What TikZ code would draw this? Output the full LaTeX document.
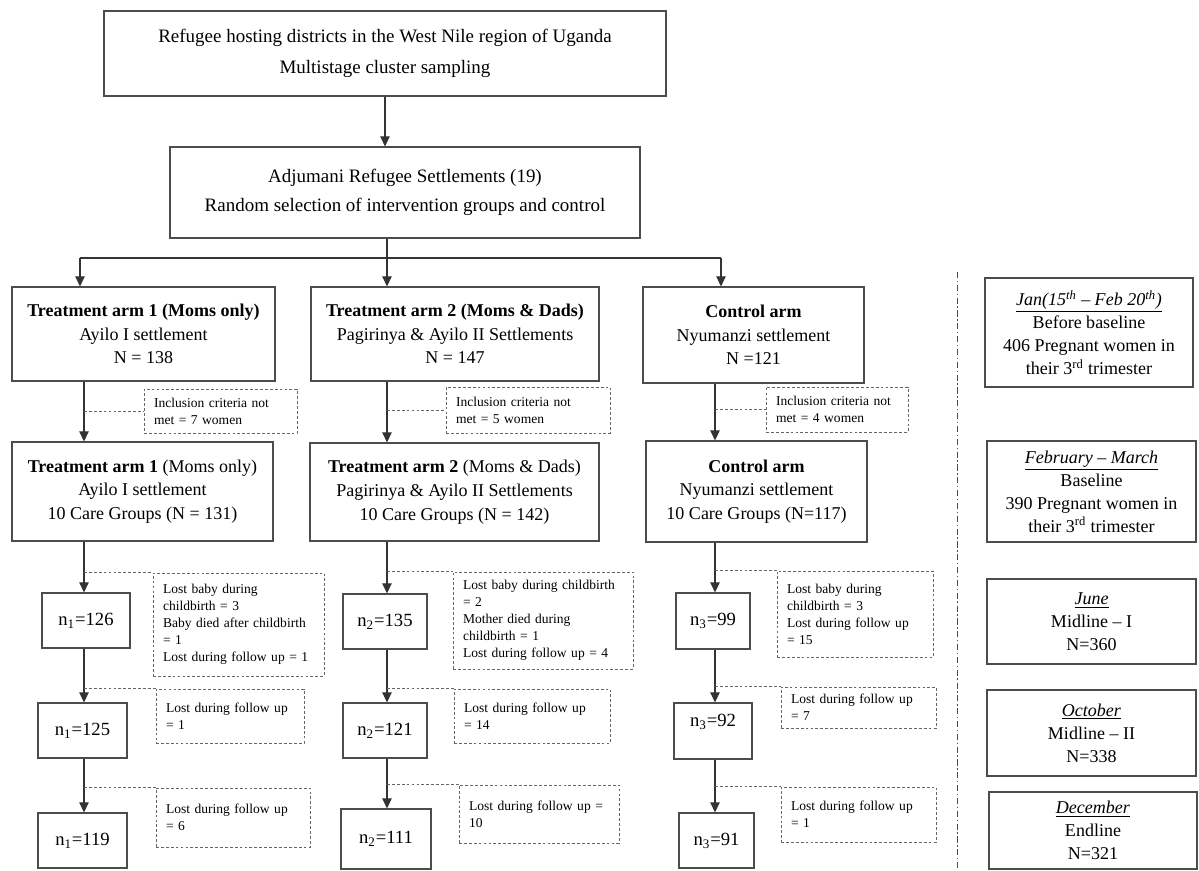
\documentclass[tikz,border=0pt]{standalone}
\usepackage{fontspec}
\setmainfont{Liberation Serif}
\usetikzlibrary{arrows.meta}

\begin{document}
\begin{tikzpicture}[
  box/.style={draw=black!70, line width=0.6pt, align=center, inner sep=2pt, font=\fontsize{10.25}{13.5}\selectfont},
  nbox/.style={draw=black!70, line width=0.6pt, inner sep=1pt, minimum height=1.1cm, font=\fontsize{10.6}{13}\selectfont},
  note/.style={draw=black!60, line width=0.5pt, dash pattern=on 1.6pt off 1.2pt, align=left, inner xsep=1pt, inner ysep=1pt, font=\fontsize{7.7}{9.7}\selectfont},
  arr/.style={draw=black!80, line width=0.6pt, -{Triangle[length=5.8pt,width=5.4pt]}},
  conn/.style={draw=black!60, line width=0.5pt, dash pattern=on 1.6pt off 1.2pt},
  trunk/.style={draw=black!80, line width=0.6pt}]
\useasboundingbox (0,0) rectangle (23.98,-17.42);

% Sampling
\node[box, minimum width=11.24cm, minimum height=1.70cm, font=\fontsize{10.8}{17.6}\selectfont] (top) at (7.70,-1.07)
  {Refugee hosting districts in the West Nile region of Uganda\\ Multistage cluster sampling};
\node[box, minimum width=9.40cm, minimum height=1.82cm, font=\fontsize{10.8}{16.4}\selectfont] (sel) at (8.10,-3.85)
  {Adjumani Refugee Settlements (19)\\ Random selection of intervention groups and control};
\draw[arr] (top.south) -- (top.south |- sel.north);

% Split into the three arms
\coordinate (split) at (7.74,-5.16);
\coordinate (bl) at (1.60,-5.16);
\coordinate (br) at (14.42,-5.16);
\coordinate (s1) at (1.68,0);
\coordinate (s2) at (7.74,0);
\coordinate (s3) at (14.30,0);

\node[box, minimum width=5.26cm, minimum height=1.88cm] (T1a) at (2.87,-6.68)
  {\textbf{Treatment arm 1 (Moms only)}\\ Ayilo I settlement\\ N = 138};
\node[box, minimum width=5.76cm, minimum height=1.88cm] (T2a) at (9.10,-6.68)
  {\textbf{Treatment arm 2 (Moms \& Dads)}\\ Pagirinya \& Ayilo II Settlements\\ N = 147};
\node[box, minimum width=4.42cm, minimum height=1.92cm] (C1a) at (15.07,-6.70)
  {\textbf{Control arm}\\ Nyumanzi settlement\\ N =121};

\draw[trunk] (sel.south -| split) -- (split);
\draw[trunk] (bl) -- (br);
\draw[arr] (bl) -- (bl |- T1a.north);
\draw[arr] (split) -- (split |- T2a.north);
\draw[arr] (br) -- (br |- C1a.north);

% Inclusion criteria
\node[note, minimum width=3.06cm, minimum height=0.88cm, text width=2.66cm] (incl1) at (4.41,-8.22)
  {Inclusion criteria not\\ met = 7 women};
\node[note, minimum width=3.28cm, minimum height=0.92cm, text width=2.88cm] (incl2) at (10.56,-8.20)
  {Inclusion criteria not\\ met = 5 women};
\node[note, minimum width=2.84cm, minimum height=0.90cm, text width=2.44cm] (incl3) at (16.74,-8.19)
  {Inclusion criteria not\\ met = 4 women};

\node[box, minimum width=5.22cm, minimum height=1.98cm] (T1b) at (2.85,-9.83)
  {\textbf{Treatment arm 1} (Moms only)\\ Ayilo I settlement\\ 10 Care Groups (N = 131)};
\node[box, minimum width=5.78cm, minimum height=1.96cm] (T2b) at (9.09,-9.84)
  {\textbf{Treatment arm 2} (Moms \& Dads)\\ Pagirinya \& Ayilo II Settlements\\ 10 Care Groups (N = 142)};
\node[box, minimum width=4.42cm, minimum height=2.02cm] (C1b) at (15.13,-9.83)
  {\textbf{Control arm}\\ Nyumanzi settlement\\ 10 Care Groups (N=117)};

\draw[arr] (T1a.south -| s1) -- (T1b.north -| s1);
\draw[arr] (T2a.south -| s2) -- (T2b.north -| s2);
\draw[arr] (C1a.south -| s3) -- (C1b.north -| s3);
\draw[conn] (incl1.west -| s1) -- (incl1.west);
\draw[conn] (incl2.west -| s2) -- (incl2.west);
\draw[conn] (incl3.west -| s3) -- (incl3.west);

% Follow up, arm 1
\node[nbox, minimum width=1.76cm] (n1a) at (1.72,-12.41) {n\textsubscript{1}=126};
\node[nbox, minimum width=1.78cm] (n1b) at (1.65,-14.61) {n\textsubscript{1}=125};
\node[nbox, minimum width=1.78cm] (n1c) at (1.65,-16.81) {n\textsubscript{1}=119};
\node[note, minimum width=3.42cm, minimum height=2.06cm, text width=3.02cm] (L1a) at (4.77,-12.49)
  {Lost baby during\\ childbirth = 3\\ Baby died after childbirth\\ = 1\\ Lost during follow up = 1};
\node[note, minimum width=2.96cm, minimum height=1.08cm, text width=2.56cm] (L1b) at (4.60,-14.32)
  {Lost during follow up\\ = 1};
\node[note, minimum width=3.08cm, minimum height=1.18cm, text width=2.68cm] (L1c) at (4.66,-16.35)
  {Lost during follow up\\ = 6};
\draw[arr] (T1b.south -| s1) -- (n1a.north -| s1);
\draw[arr] (n1a.south -| s1) -- (n1b.north -| s1);
\draw[arr] (n1b.south -| s1) -- (n1c.north -| s1);
\draw[conn] (L1a.north west -| s1) -- (L1a.north west);
\draw[conn] (L1b.north west -| s1) -- (L1b.north west);
\draw[conn] (L1c.north west -| s1) -- (L1c.north west);

% Follow up, arm 2
\node[nbox, minimum width=1.68cm] (n2a) at (7.70,-12.43) {n\textsubscript{2}=135};
\node[nbox, minimum width=1.68cm] (n2b) at (7.70,-14.61) {n\textsubscript{2}=121};
\node[nbox, minimum width=1.80cm, minimum height=1.20cm] (n2c) at (7.72,-16.78) {n\textsubscript{2}=111};
\node[note, minimum width=3.60cm, minimum height=1.94cm, text width=3.20cm] (L2a) at (10.86,-12.41)
  {Lost baby during childbirth\\ = 2\\ Mother died during\\ childbirth = 1\\ Lost during follow up = 4};
\node[note, minimum width=3.12cm, minimum height=1.08cm, text width=2.72cm] (L2b) at (10.64,-14.32)
  {Lost during follow up\\ = 14};
\node[note, minimum width=3.20cm, minimum height=1.16cm, text width=2.80cm] (L2c) at (10.78,-16.28)
  {Lost during follow up =\\ 10};
\draw[arr] (T2b.south -| s2) -- (n2a.north -| s2);
\draw[arr] (n2a.south -| s2) -- (n2b.north -| s2);
\draw[arr] (n2b.south -| s2) -- (n2c.north -| s2);
\draw[conn] (L2a.north west -| s2) -- (L2a.north west);
\draw[conn] (L2b.north west -| s2) -- (L2b.north west);
\draw[conn] (L2c.north west -| s2) -- (L2c.north west);

% Follow up, control
\node[nbox, minimum width=1.48cm, minimum height=1.12cm] (n3a) at (14.26,-12.42) {n\textsubscript{3}=99};
\node[nbox, minimum width=1.56cm, minimum height=1.12cm, text depth=0.42cm] (n3b) at (14.26,-14.62) {n\textsubscript{3}=92};
\node[nbox, minimum width=1.50cm] (n3c) at (14.33,-16.81) {n\textsubscript{3}=91};
\node[note, minimum width=3.12cm, minimum height=1.72cm, text width=2.72cm] (L3a) at (17.10,-12.28)
  {Lost baby during\\ childbirth = 3\\ Lost during follow up\\ = 15};
\node[note, minimum width=3.10cm, minimum height=0.82cm, text width=2.70cm] (L3b) at (17.17,-14.15)
  {Lost during follow up\\ = 7};
\node[note, minimum width=3.10cm, minimum height=1.10cm, text width=2.70cm] (L3c) at (17.17,-16.29)
  {Lost during follow up\\ = 1};
\draw[arr] (C1b.south -| s3) -- (n3a.north -| s3);
\draw[arr] (n3a.south -| s3) -- (n3b.north -| s3);
\draw[arr] (n3b.south -| s3) -- (n3c.north -| s3);
\draw[conn] (L3a.north west -| s3) -- (L3a.north west);
\draw[conn] (L3b.north west -| s3) -- (L3b.north west);
\draw[conn] (L3c.north west -| s3) -- (L3c.north west);

% Time line
\draw[black!70, line width=0.5pt, dash pattern=on 3.5pt off 1.5pt on 0.8pt off 1.5pt] (19.14,-5.44) -- (19.14,-17.42);
\node[box, minimum width=4.16cm, minimum height=2.18cm, font=\fontsize{10.25}{13.1}\selectfont] (R1) at (21.78,-6.65)
  {\underline{\textit{Jan(15\textsuperscript{th} -- Feb 20\textsuperscript{th})}}\\ Before baseline\\ 406 Pregnant women in\\ their 3\textsuperscript{rd} trimester};
\node[box, minimum width=4.18cm, minimum height=2.02cm, font=\fontsize{10.25}{13.1}\selectfont] (R2) at (21.83,-9.83)
  {\underline{\textit{February -- March}}\\ Baseline\\ 390 Pregnant women in\\ their 3\textsuperscript{rd} trimester};
\node[box, minimum width=4.18cm, minimum height=1.70cm, font=\fontsize{10.25}{13.1}\selectfont] (R3) at (21.83,-12.43)
  {\underline{\textit{June}}\\ Midline -- I\\ N=360};
\node[box, minimum width=4.18cm, minimum height=1.72cm, font=\fontsize{10.25}{13.1}\selectfont] (R4) at (21.83,-14.66)
  {\underline{\textit{October}}\\ Midline -- II\\ N=338};
\node[box, minimum width=4.16cm, minimum height=1.54cm, font=\fontsize{10.25}{13.1}\selectfont] (R5) at (21.86,-16.61)
  {\underline{\textit{December}}\\ Endline\\ N=321};
\end{tikzpicture}
\end{document}
